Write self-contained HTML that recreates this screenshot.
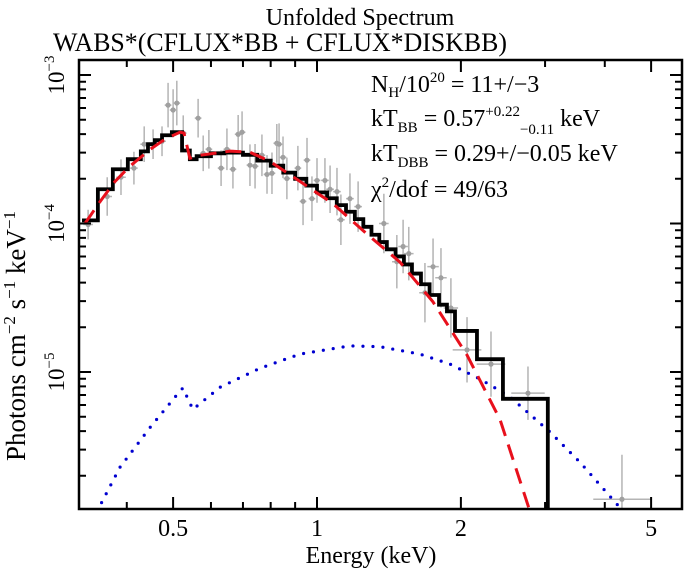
<!DOCTYPE html>
<html><head><meta charset="utf-8"><style>
html,body{margin:0;padding:0;background:#fff;}
svg{display:block;font-family:"Liberation Serif",serif;}
</style></head><body>
<svg id="chart" width="686" height="569" viewBox="0 0 686 569" xmlns="http://www.w3.org/2000/svg">
<defs><clipPath id="plotclip"><rect x="79" y="60" width="603" height="449"/></clipPath></defs>
<text x="360" y="25" font-size="24" text-anchor="middle">Unfolded Spectrum</text>
<text x="53" y="51" font-size="26" textLength="454" lengthAdjust="spacingAndGlyphs">WABS*(CFLUX*BB + CFLUX*DISKBB)</text>
<g id="marks" clip-path="url(#plotclip)"></g>
<g id="axes"></g>
<g font-size="24">
<text x="371" y="92">N<tspan font-size="15" dy="5">H</tspan><tspan dy="-5">/10</tspan><tspan font-size="15" dy="-10">20</tspan><tspan dy="10"> = 11+/−3</tspan></text>
<text x="371" y="126">kT<tspan font-size="15" dy="6">BB</tspan><tspan dy="-6"> = 0.57</tspan><tspan font-size="15" dy="-10">+0.22</tspan><tspan font-size="15" dy="18">−0.11</tspan><tspan dy="-8"> keV</tspan></text>
<text x="371" y="161">kT<tspan font-size="15" dy="6">DBB</tspan><tspan dy="-6"> = 0.29+/−0.05 keV</tspan></text>
<text x="371" y="197">χ<tspan font-size="15" dy="-10">2</tspan><tspan dy="10">/dof = 49/63</tspan></text>
</g>
<text x="371" y="563" font-size="24" text-anchor="middle">Energy (keV)</text>
<text transform="translate(25,336) rotate(-90)" font-size="27" text-anchor="middle">Photons cm<tspan font-size="17" dy="-10">−2</tspan><tspan dy="10"> s</tspan><tspan font-size="17" dy="-10">−1</tspan><tspan dy="10"> keV</tspan><tspan font-size="17" dy="-10">−1</tspan></text>
</svg>
<script>
// ---- data ----
const dataE = [0.332,0.364,0.389,0.414,0.435,0.454,0.474,0.488,0.500,0.509,0.525,0.564,0.578,0.594,0.630,0.648,0.667,0.684,0.697,0.724,0.742,0.767,0.786,0.805,0.824,0.833,0.849,0.865,0.912,0.935,0.953,0.976,1.0,1.039,1.065,1.101,1.122,1.172,1.219,1.380,1.469,1.514,1.556,1.682,1.749,1.817,1.906,2.060,2.312,2.763,4.345];
const dataF = [9.84e-5,1.52e-4,2.05e-4,2.36e-4,3.42e-4,3.42e-4,3.58e-4,6.27e-4,5.81e-4,6.47e-4,4.06e-4,5.12e-4,2.97e-4,3.16e-4,2.36e-4,3.16e-4,2.32e-4,3.99e-4,4.12e-4,2.47e-4,2.43e-4,2.88e-4,2.14e-4,2.18e-4,3.47e-4,3.42e-4,2.79e-4,2.01e-4,2.36e-4,1.41e-4,2.67e-4,1.47e-4,1.95e-4,1.95e-4,1.70e-4,1.64e-4,1.06e-4,1.47e-4,1.30e-4,1.0e-4,5.53e-5,7.0e-5,6.27e-5,3.42e-5,5.12e-5,4.31e-5,2.70e-5,1.41e-5,1.13e-5,7.2e-6,1.39e-6];
const dataErrDex = [0.1,0.13,0.12,0.11,0.12,0.1,0.1,0.15,0.14,0.15,0.12,0.13,0.12,0.13,0.12,0.14,0.13,0.13,0.14,0.14,0.15,0.14,0.13,0.14,0.13,0.14,0.14,0.14,0.15,0.16,0.15,0.15,0.15,0.15,0.16,0.16,0.17,0.17,0.17,0.2,0.18,0.18,0.18,0.2,0.19,0.2,0.2,0.22,0.22,0.18,0.3];
const dataEDex = [0.01,0.01,0.01,0.008,0.008,0.008,0.008,0.007,0.007,0.007,0.007,0.007,0.007,0.007,0.007,0.007,0.007,0.007,0.007,0.007,0.007,0.007,0.007,0.007,0.007,0.007,0.007,0.007,0.007,0.007,0.007,0.007,0.007,0.008,0.008,0.008,0.008,0.008,0.008,0.01,0.01,0.01,0.01,0.012,0.012,0.012,0.015,0.03,0.03,0.035,0.06];
const modelEdges = [0.3224,0.348,0.374,0.402,0.428,0.443,0.458,0.474,0.497,0.522,0.542,0.56,0.60,0.64,0.70,0.75,0.80,0.85,0.90,0.95,1.00,1.05,1.10,1.15,1.20,1.25,1.30,1.35,1.40,1.46,1.52,1.58,1.65,1.72,1.80,1.87,1.944,2.161,2.449,3.04,5.86];
const modelF = [1.05e-4,1.70e-4,2.32e-4,2.71e-4,3.06e-4,3.42e-4,3.64e-4,3.93e-4,4.12e-4,3.1e-4,2.71e-4,2.84e-4,2.97e-4,3.0e-4,2.9e-4,2.65e-4,2.45e-4,2.2e-4,2.0e-4,1.8e-4,1.62e-4,1.48e-4,1.33e-4,1.2e-4,1.07e-4,9.5e-5,8.4e-5,7.5e-5,6.7e-5,6.0e-5,5.3e-5,4.6e-5,3.9e-5,3.3e-5,2.84e-5,2.56e-5,1.89e-5,1.22e-5,6.6e-6,1e-7];
const bbE = [0.327,0.352,0.378,0.406,0.448,0.481,0.517,0.527,0.542,0.569,0.658,0.724,0.797,0.921,1.080,1.272,1.491,1.748,2.060,2.414,2.790];
const bbF = [1.0e-4,1.41e-4,1.92e-4,2.43e-4,3.16e-4,3.70e-4,4.12e-4,4.06e-4,2.75e-4,2.88e-4,3.07e-4,3.02e-4,2.62e-4,1.92e-4,1.36e-4,8.5e-5,5.5e-5,2.97e-5,1.30e-5,4.8e-6,1.15e-6];
const dbbE = [0.3465,0.387,0.448,0.505,0.524,0.550,0.627,0.760,0.921,1.172,1.354,1.642,1.898,2.193,2.534,3.073,3.549,4.304];
const dbbF = [1.15e-6,2.28e-6,4.25e-6,6.8e-6,7.8e-6,5.6e-6,7.9e-6,1.06e-5,1.32e-5,1.50e-5,1.48e-5,1.32e-5,1.13e-5,8.97e-6,6.8e-6,3.94e-6,2.47e-6,1.22e-6];
const xTicksMajor = [0.5,1,2,5];
const xTickLabels = ["0.5","1","2","5"];
const xTicksMinor = [0.4,0.6,0.7,0.8,0.9,3,4];
const yTicksMajor = [1e-3,1e-4,1e-5];
const yTickExps = ["−3","−4","−5"];
const yTicksMinor = [2e-6,3e-6,4e-6,5e-6,6e-6,7e-6,8e-6,9e-6,2e-5,3e-5,4e-5,5e-5,6e-5,7e-5,8e-5,9e-5,2e-4,3e-4,4e-4,5e-4,6e-4,7e-4,8e-4,9e-4];

const L=79,R=682,T=60,B=509;
function X(e){return 317+478*Math.log10(e);}
function Y(f){return 75+(-3-Math.log10(f))*148.5;}
const NS="http://www.w3.org/2000/svg";
function mk(tag,attrs,parent){const el=document.createElementNS(NS,tag);for(const k in attrs)el.setAttribute(k,attrs[k]);parent.appendChild(el);return el;}
const marks=document.getElementById('marks');
const axes=document.getElementById('axes');

const dg=mk('g',{},marks);


for(let i=0;i<dataE.length;i++){
  const x=X(dataE[i]),y=Y(dataF[i]);
  const y1=Y(dataF[i]*Math.pow(10,dataErrDex[i])),y2=Y(dataF[i]/Math.pow(10,dataErrDex[i]));
  const x1=X(dataE[i]/Math.pow(10,dataEDex[i])),x2=X(dataE[i]*Math.pow(10,dataEDex[i]));
  const eb=mk('path',{d:`M${x},${y1}V${y2}M${x1},${y}H${x2}`,stroke:'#b4b4b4','stroke-width':1.5,fill:'none'},dg);
  
  
  const c=mk('circle',{cx:x,cy:y,r:2.6,fill:'#a0a0a0'},dg);
  
  
}
let d='';
for(let i=0;i<dbbE.length;i++){d+=(i?'L':'M')+X(dbbE[i])+','+Y(dbbF[i]);}
const blue=mk('path',{d:d,stroke:'#0000d0','stroke-width':3.2,fill:'none','stroke-dasharray':'0 10','stroke-linecap':'round'},marks);


const ymin=B+5;
d='';
for(let i=0;i<modelF.length;i++){
  const y=Math.min(Y(modelF[i]),ymin);
  d+=(i?'L':'M')+X(modelEdges[i])+','+y+'L'+X(modelEdges[i+1])+','+y;
}
const black=mk('path',{d:d,stroke:'#000','stroke-width':3.8,fill:'none','stroke-linejoin':'miter'},marks);


d='';
for(let i=0;i<bbE.length;i++){d+=(i?'L':'M')+X(bbE[i])+','+Y(bbF[i]);}
const red=mk('path',{d:d,stroke:'#e8101c','stroke-width':3,fill:'none','stroke-dasharray':'16 9'},marks);



const fr=mk('rect',{x:L,y:T,width:R-L,height:B-T,fill:'none',stroke:'#000','stroke-width':2.5},axes);


xTicksMajor.forEach((v,i)=>{
  const x=X(v);
  const t=mk('path',{d:`M${x},${B}V${B-12}M${x},${T}V${T+12}`,stroke:'#000','stroke-width':2},axes);
  
  
  const lb=mk('text',{x:x,y:536,'font-size':24,'text-anchor':'middle'},axes);
  lb.textContent=xTickLabels[i];
  
  
});
xTicksMinor.forEach(v=>{
  const x=X(v);
  const t=mk('path',{d:`M${x},${B}V${B-7}M${x},${T}V${T+7}`,stroke:'#000','stroke-width':2},axes);
  
  
});
yTicksMajor.forEach((v,i)=>{
  const y=Y(v);
  const t=mk('path',{d:`M${L},${y}H${L+12}M${R},${y}H${R-12}`,stroke:'#000','stroke-width':2},axes);
  
  
  const lb=mk('text',{transform:`translate(64,${y}) rotate(-90)`,'font-size':23,'text-anchor':'middle'},axes);
  
  
  const a=mk('tspan',{},lb);a.textContent='10';
  const b=mk('tspan',{'font-size':15,dy:-10},lb);b.textContent=yTickExps[i];
});
yTicksMinor.forEach(v=>{
  const y=Y(v);
  const t=mk('path',{d:`M${L},${y}H${L+7}M${R},${y}H${R-7}`,stroke:'#000','stroke-width':2},axes);
  
  
});
</script>
</body></html>
